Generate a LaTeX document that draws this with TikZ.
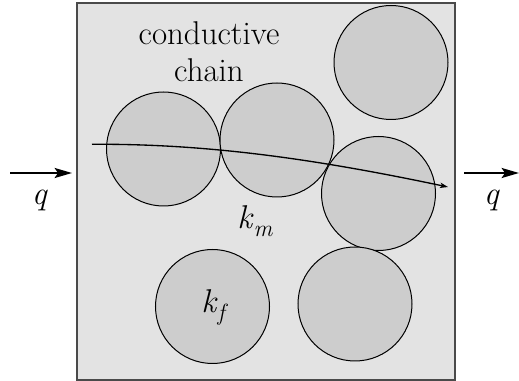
\documentclass[tikz,border=0pt]{standalone}
\usepackage{fontspec}
\usetikzlibrary{arrows.meta}
\definecolor{matrixgray}{HTML}{E3E3E3}
\definecolor{fibergray}{HTML}{CDCDCD}
\definecolor{framegray}{HTML}{4A4A4A}
\tikzset{
  particle/.style={circle, draw=black, line width=0.75pt, fill=fibergray,
    inner sep=0pt, minimum size=85.5pt},
  label text/.style={font=\fontsize{24.7}{29}\selectfont, inner sep=0pt, anchor=base},
  flux/.style={line width=1.5pt, -{Stealth[length=13pt, width=7.5pt, inset=2.5pt]}},
  path line/.style={line width=1pt, -{Stealth[length=6pt, width=4pt, inset=1.5pt]}}
}
% italic symbol with a lowered italic index
\newcommand{\symsub}[2]{\textit{#1}\raisebox{-0.22em}{\fontsize{17.6}{18}\selectfont\itshape #2}}
\begin{document}
\begin{tikzpicture}[x=0.75pt, y=-0.75pt]
  \useasboundingbox (0,0) rectangle (519,381);
  % composite cell
  \node (box) [draw=framegray, line width=1.1pt, fill=matrixgray, inner sep=0pt,
    minimum width=378*0.75pt, minimum height=377*0.75pt] at (266,191.5) {};
  % filler particles
  \node (p1) [particle] at (391,62.5) {};
  \node (p2) [particle] at (163.5,149) {};
  \node (p3) [particle] at (277,140) {};
  \node (p4) [particle] at (378.5,193.5) {};
  \node (p5) [particle] at (212.5,306.5) {};
  \node (p6) [particle] at (355,304) {};
  % labels
  \node (t1) [label text] at (209,45) {conductive};
  \node (t2) [label text] at (209,82) {chain};
  \node (km) [label text] at (255,229) {\symsub{k}{m}};
  \node (kf) [label text] at (213,313) {\symsub{k}{f}};
  % heat path along the chain
  \coordinate (pa) at (92,144.3);
  \coordinate (pb) at (448,187);
  \draw[path line] (pa) .. controls (210,143.5) and (320,160) .. (pb);
  % heat flux in and out
  \coordinate (inA) at (10,173);
  \coordinate (inB) at (72,173);
  \coordinate (outA) at (464,173);
  \coordinate (outB) at (519,173);
  \draw[flux] (inA) -- (inB);
  \draw[flux] (outA) -- (outB);
  \node (qin) [label text] at (40,205) {\textit{q}};
  \node (qout) [label text] at (492,205) {\textit{q}};
\end{tikzpicture}
\end{document}
